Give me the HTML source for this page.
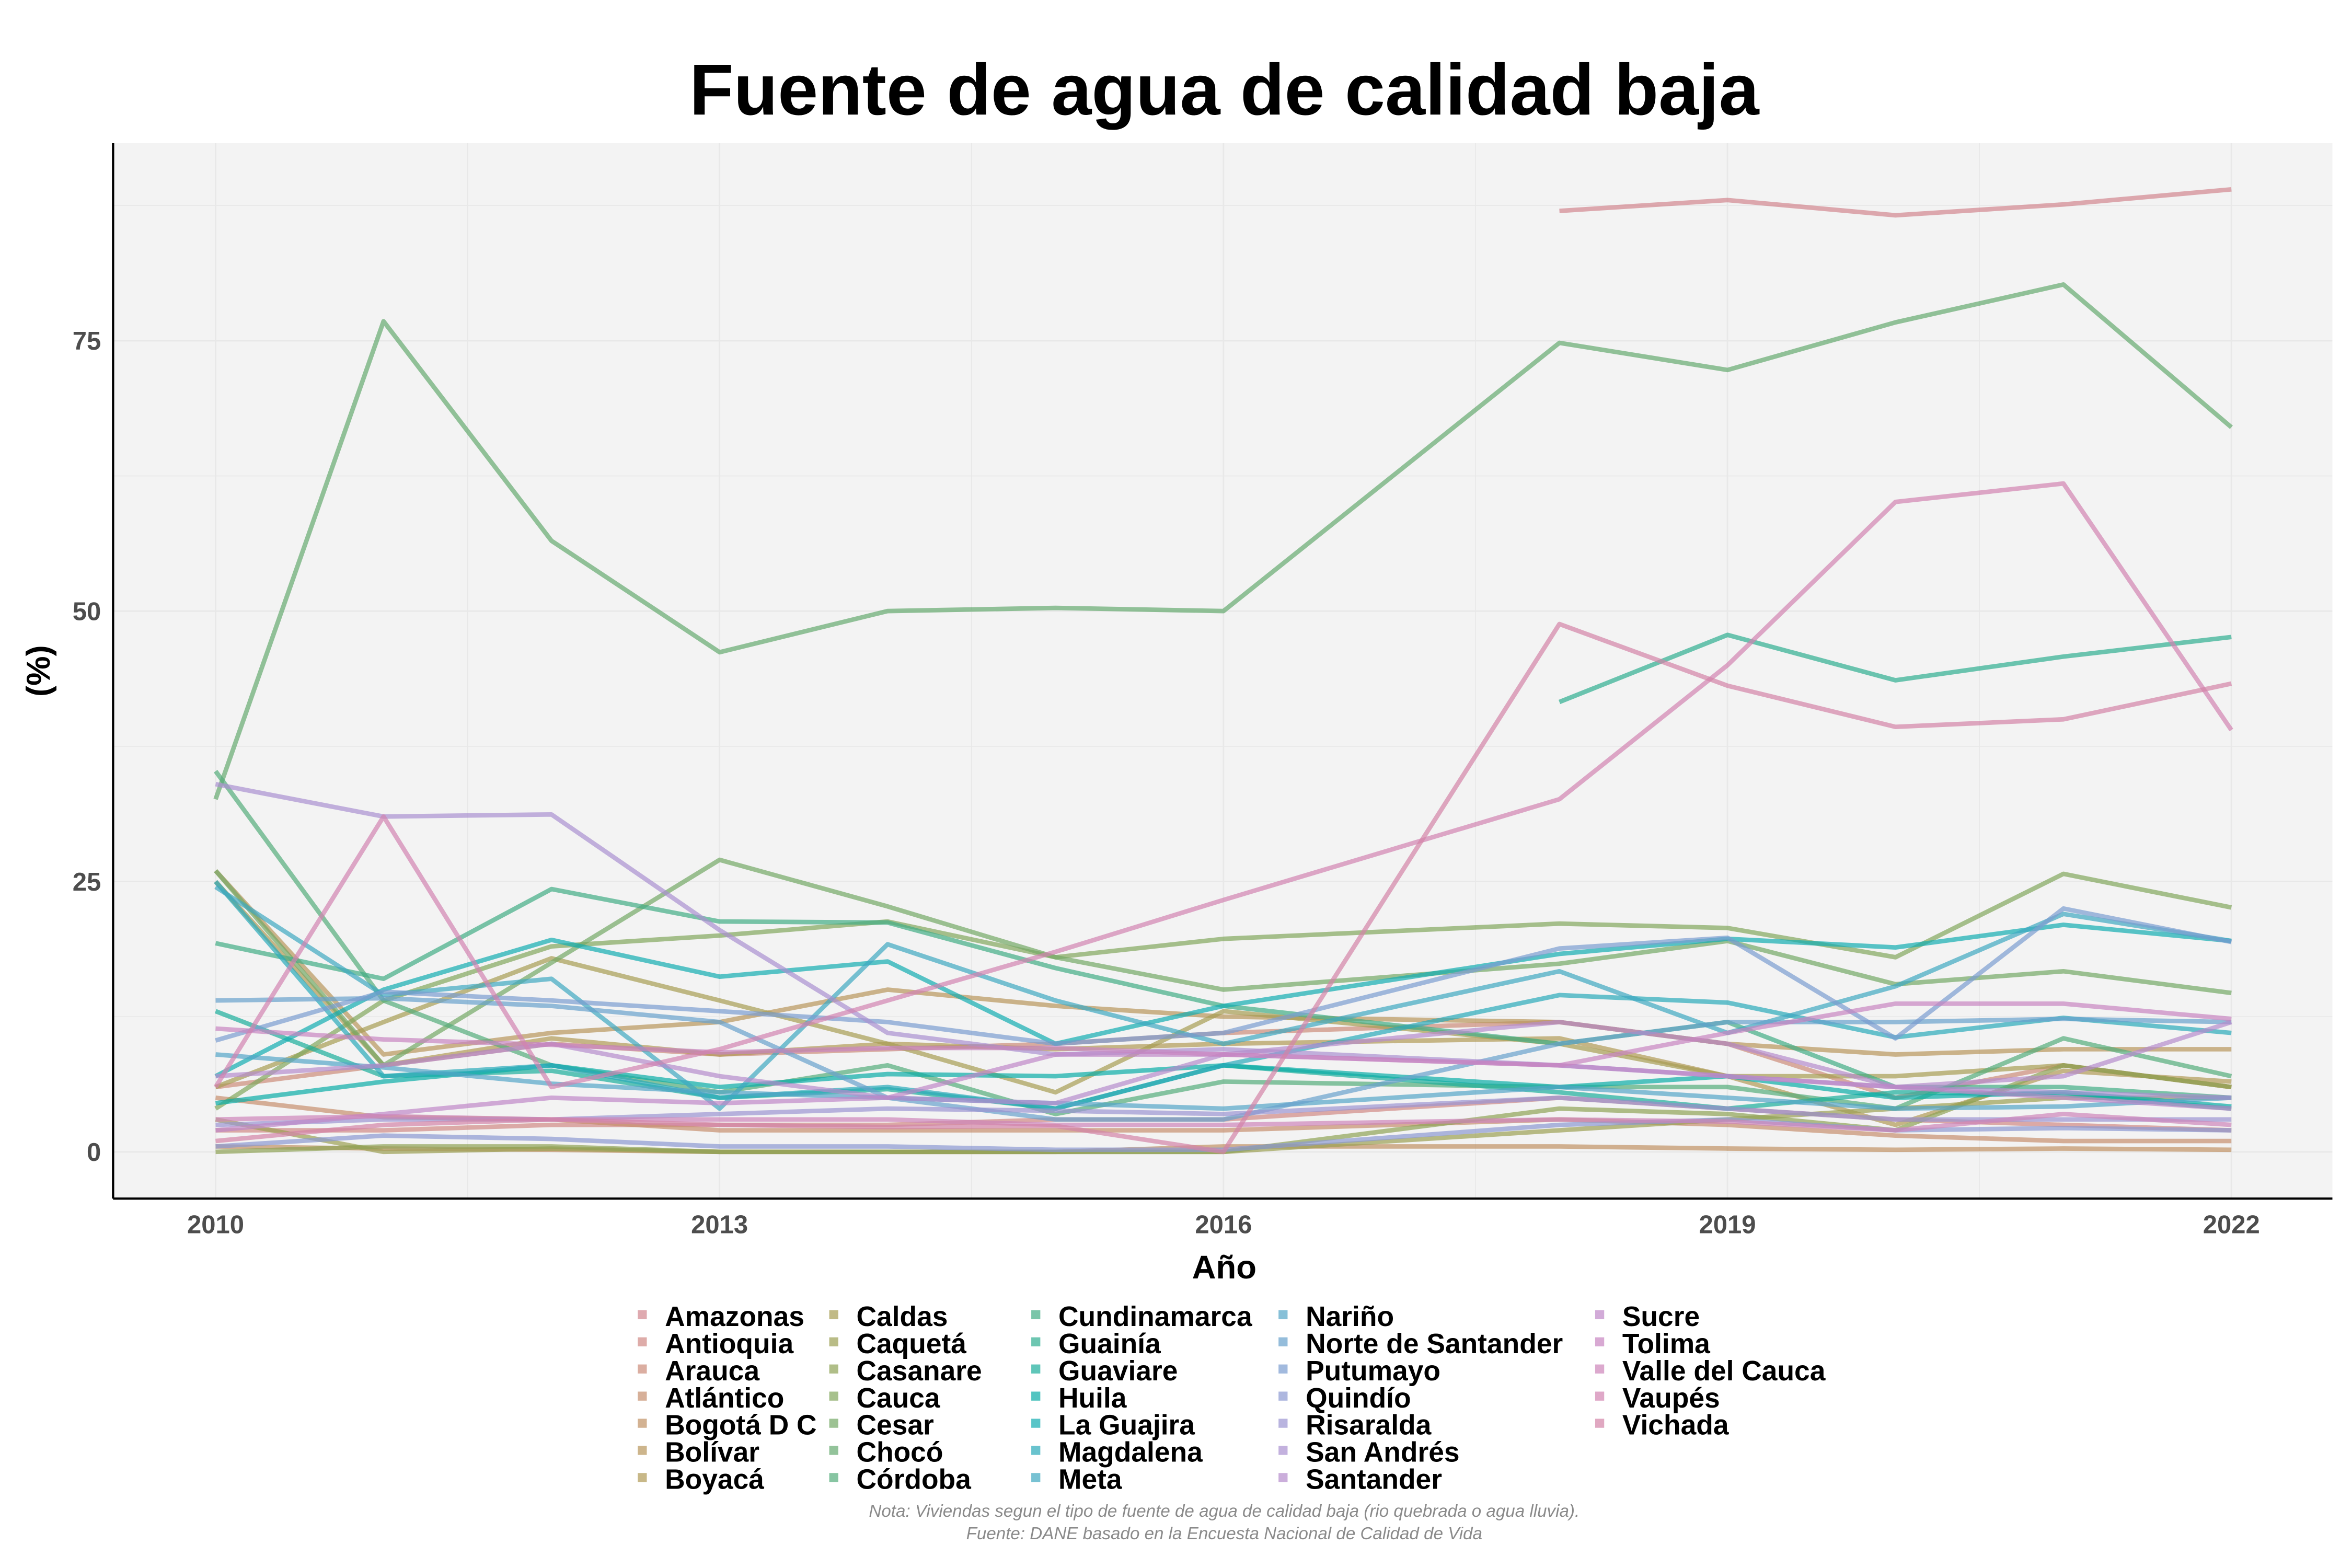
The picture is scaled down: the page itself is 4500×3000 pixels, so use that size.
<!DOCTYPE html>
<html><head><meta charset="utf-8"><style>
html,body{margin:0;padding:0;background:#fff}
svg{display:block}
text{font-family:"Liberation Sans",sans-serif}
</style></head><body>
<svg id="chart" width="4500" height="3000" viewBox="0 0 1560 1040">
<rect x="0" y="0" width="1560" height="1040" fill="#fff"/>
<text x="812" y="76" text-anchor="middle" font-size="48" font-weight="bold">Fuente de agua de calidad baja</text>
<rect x="75" y="95" width="1472" height="700" fill="#f3f3f3"/>
<g id="grid"></g>
<g id="lines"></g>
<line x1="75" y1="95" x2="75" y2="795" stroke="#000" stroke-width="1.5"/>
<line x1="75" y1="795" x2="1547" y2="795" stroke="#000" stroke-width="1.5"/>
<g id="ticks"></g>
<text x="812" y="848" text-anchor="middle" font-size="22" font-weight="bold">Año</text>
<text transform="translate(33,445) rotate(-90)" text-anchor="middle" font-size="22" font-weight="bold">(%)</text>
<g id="legend"></g>
<text x="812" y="1006" text-anchor="middle" font-size="11.5" font-style="italic" fill="#8a8a8a">Nota: Viviendas segun el tipo de fuente de agua de calidad baja (rio quebrada o agua lluvia).</text>
<text x="812" y="1021" text-anchor="middle" font-size="11.5" font-style="italic" fill="#8a8a8a">Fuente: DANE basado en la Encuesta Nacional de Calidad de Vida</text>
</svg>
<script>
const years=[2010,2011,2012,2013,2014,2015,2016,2018,2019,2020,2021,2022];
const xTicks=[2010,2013,2016,2019,2022];
const yTicks=[0,25,50,75];
const names=["Amazonas","Antioquia","Arauca","Atlántico","Bogotá D C","Bolívar","Boyacá","Caldas","Caquetá","Casanare","Cauca","Cesar","Chocó","Córdoba","Cundinamarca","Guainía","Guaviare","Huila","La Guajira","Magdalena","Meta","Nariño","Norte de Santander","Putumayo","Quindío","Risaralda","San Andrés","Santander","Sucre","Tolima","Valle del Cauca","Vaupés","Vichada"];
const N=null;
const sAmazonas=[N,N,N,N,N,N,N,87,88,86.6,87.6,89];
const sAntioquia=[2,2,2.5,2.5,2.5,3,3,5,4,3,2.5,2];
const sArauca=[6,8,10,9,9.5,10,11,12,10,5,8,6];
const sAtlantico=[5,3.2,3,2,2,2,2,3,2.5,1.5,1,1];
const sBogota=[0.5,0.3,0.2,0,0,0,0.5,0.5,0.3,0.2,0.3,0.2];
const sBolivar=[26,9,11,12,15,13.5,12.5,12,10,9,9.5,9.5];
const sBoyaca=[25,8,10.5,9,10,9.5,10,10.5,7,2.5,7.5,6.5];
const sCaldas=[6,12,17.9,14,10,5.5,13,10,7,7,8,6];
const sCaqueta=[3,0,0.3,0,0,0,0,2,3,4,5,5];
const sCasanare=[0,0.5,0.5,0,0,0,0,4,3.5,2,8,6];
const sCauca=[4,14,19,20,21.3,18,19.7,21.1,20.7,18,25.7,22.6];
const sCesar=[26,8,17.5,27,22.7,18,15,17.4,19.5,15.5,16.7,14.7];
const sChoco=[32.6,76.8,56.5,46.2,50,50.3,50,74.8,72.3,76.7,80.2,67];
const sCordoba=[35.2,14,8,5.5,8,3.5,6.5,6,6,4,10.5,7];
const sCundinamarca=[19.3,16,24.3,21.3,21.2,17,13.5,10,12,6,6,5];
const sGuainia=[N,N,N,N,N,N,N,41.6,47.8,43.6,45.8,47.6];
const sGuaviare=[13,7,7.5,5,5.8,4,8,5.5,4,5.5,5.3,4];
const sHuila=[4.5,6.5,8,6,7.2,7,8,6,7,5,5.5,4.2];
const sLaGuajira=[7,15,19.6,16.2,17.6,10,13.5,18.3,19.7,18.9,21,19.5];
const sMagdalena=[25,7,8,5,6,4,8,14.5,13.8,10.6,12.4,11];
const sMeta=[24.5,14.5,16,4,19.2,14,10,16.7,11,15.3,22,19.5];
const sNarino=[9,7.8,6.3,5.5,5,4.5,4,6,5,4,4.2,5];
const sNorte=[14,14.2,13.5,12,5,3,3,10,12,12,12.3,12];
const sPutumayo=[10.3,14.8,14,13,12,10,11,18.8,19.8,10.5,22.5,19.4];
const sQuindio=[0.5,1.5,1.2,0.5,0.5,0.2,0.2,2.5,3,2,2.2,2];
const sRisaralda=[2.5,3,3,3.5,4,3.8,3.5,5,4,3,3,3];
const sSanAndres=[34,31,31.2,20.5,11,9,9.5,8,7,6,5.5,5];
const sSantander=[7,8,10,7,5,4.5,9,12,10,6,7,12];
const sSucre=[2,3.5,5,4.5,5,9,9,8,7,6,5,4];
const sTolima=[11.4,10.4,9.9,9.2,9.6,9.6,9,8,11,13.7,13.7,12.3];
const sValle=[3,3.3,3,3,3,2.5,2.5,3,2.8,2,3.5,2.5];
const sVaupes=[6,31,6,9.5,14,18.5,23.3,32.6,45,60.1,61.8,39];
const sVichada=[1,2.5,3,2.5,2.3,2.4,0,48.8,43.1,39.3,40,43.3];
const series=[sAmazonas,sAntioquia,sArauca,sAtlantico,sBogota,sBolivar,sBoyaca,sCaldas,sCaqueta,sCasanare,sCauca,sCesar,sChoco,sCordoba,sCundinamarca,sGuainia,sGuaviare,sHuila,sLaGuajira,sMagdalena,sMeta,sNarino,sNorte,sPutumayo,sQuindio,sRisaralda,sSanAndres,sSantander,sSucre,sTolima,sValle,sVaupes,sVichada];

const NS="http://www.w3.org/2000/svg";
function xs(y){return 143+(y-2010)*(1480-143)/12;}
function ys(v){return 764-v*(764-226)/75;}
function hcl(h){
  const L=64,C=50,Xn=95.047,Yn=100,Zn=108.883;
  const d=Xn+15*Yn+3*Zn,un=4*Xn/d,vn=9*Yn/d;
  const Y=Yn*Math.pow((L+16)/116,3);
  const r=h*Math.PI/180,u=C*Math.cos(r),v=C*Math.sin(r);
  const up=u/(13*L)+un,vp=v/(13*L)+vn;
  const X=9*Y*up/(4*vp),Z=-X/3-5*Y+3*Y/vp;
  const x=X/100,y=Y/100,z=Z/100;
  let R=3.2406*x-1.5372*y-0.4986*z,G=-0.9689*x+1.8758*y+0.0415*z,B=0.0557*x-0.2040*y+1.0570*z;
  const g=c=>{c=c<=0.0031308?12.92*c:1.055*Math.pow(c,1/2.4)-0.055;return Math.round(Math.max(0,Math.min(1,c))*255);};
  return `rgb(${g(R)},${g(G)},${g(B)})`;
}
const cols=names.map((n,i)=>hcl(5+360*i/34));
function mk(tag,attrs,parent){const e=document.createElementNS(NS,tag);for(const k in attrs)e.setAttribute(k,attrs[k]);parent.appendChild(e);return e;}
const grid=document.getElementById('grid');
for(let v=0;v<=87.5;v+=12.5){const l=mk('line',{x1:75,x2:1547,y1:ys(v),y2:ys(v),stroke:'#e8e8e8','stroke-width':v%25===0?1:0.6},grid);

}
for(let y=2010;y<=2023;y+=1.5){const l=mk('line',{x1:xs(y),x2:xs(y),y1:95,y2:795,stroke:'#e8e8e8','stroke-width':(y-2010)%3===0?1:0.6},grid);

}
const lg=document.getElementById('lines');
series.forEach((s,i)=>{
  let d='',pen=false;
  s.forEach((v,j)=>{if(v===null){pen=false;return;}d+=(pen?'L':'M')+xs(years[j]).toFixed(1)+','+ys(v).toFixed(1);pen=true;});
  const p=mk('path',{d:d,fill:'none',stroke:cols[i],'stroke-width':3,'stroke-opacity':0.7,'stroke-linejoin':'round'},lg);
  
  
});
const tk=document.getElementById('ticks');
yTicks.forEach(v=>{const t=mk('text',{x:67,y:ys(v)+6,'text-anchor':'end','font-size':17,'font-weight':'bold',fill:'#4d4d4d'},tk);t.textContent=v;

});
xTicks.forEach(v=>{const t=mk('text',{x:xs(v),y:818,'text-anchor':'middle','font-size':17,'font-weight':'bold',fill:'#4d4d4d'},tk);t.textContent=v;

});
const lgd=document.getElementById('legend');
const colX=[441,568,702,866,1076];
names.forEach((n,i)=>{
  const c=Math.floor(i/7),r=i%7,x=colX[c],y=873+r*18;
  const g=mk('g',{},lgd);
  
  
  mk('rect',{x:x-18,y:y-4,width:6,height:6,fill:cols[i],'fill-opacity':0.7},g);
  const t=mk('text',{x:x,y:y+6.5,'font-size':18.5,'font-weight':'bold'},g);t.textContent=n;
});
</script>
</body></html>
